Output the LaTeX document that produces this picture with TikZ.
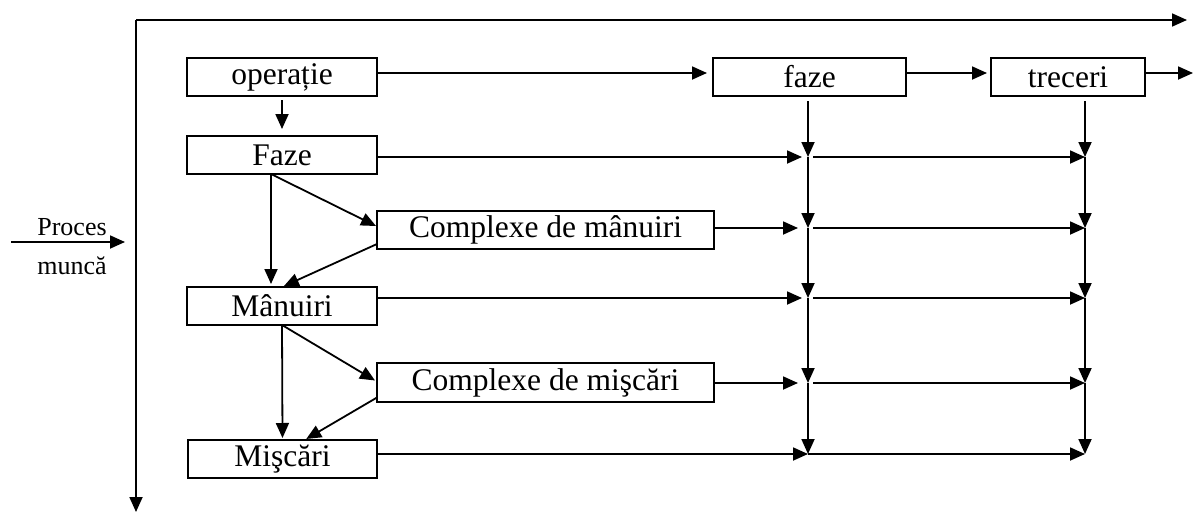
\documentclass[tikz,border=0pt]{standalone}
\usepackage{fontspec}
\setmainfont{Liberation Serif}
\usetikzlibrary{arrows.meta,calc}
\begin{document}
\begin{tikzpicture}[x=1pt,y=-1pt,
  box/.style={draw,line width=2pt,inner sep=0pt,outer sep=0pt,anchor=north west,
    minimum height=38pt,font=\fontsize{31.5}{36}\selectfont},
  arr/.style={line width=1.8pt,-{Triangle[length=15pt,width=13pt]}},
  lbl/.style={font=\fontsize{26}{30}\selectfont,inner sep=0pt,anchor=base}]
\useasboundingbox (0,0) rectangle (1198,514);
% boxes
\node[box,minimum width=190pt] (op) at (187,58) {operație};
\node[box,minimum width=190pt] (Fz) at (187,136) {Faze};
\node[box,minimum width=337pt] (CM) at (377,211) {Complexe de mânuiri};
\node[box,minimum width=190pt] (Mn) at (187,287) {Mânuiri};
\node[box,minimum width=337pt,minimum height=39pt] (CS) at (377,363) {Complexe de mişcări};
\node[box,minimum width=189pt] (Ms) at (188,440) {Mişcări};
\node[box,minimum width=193pt] (fz) at (713,58) {faze};
\node[box,minimum width=154pt] (tr) at (991,58) {treceri};
% labels
\node[lbl] (pr) at (72,235) {Proces};
\node[lbl] (mu) at (72,274) {muncă};
% axes
\coordinate (O) at (136,20);
\coordinate (Xe) at (1187,20);
\coordinate (Ye) at (136,512);
\coordinate (Ps) at (11,242);
\coordinate (Pe) at (125,242);
\draw[arr] (O) -- (Xe);
\draw[arr] (O) -- (Ye);
\draw[arr] (Ps) -- (Pe);
% grid junctions
\coordinate (A0) at (808,101); \coordinate (B0) at (1085,101);
\coordinate (A1) at (808,157); \coordinate (B1) at (1085,157);
\coordinate (A2) at (808,228); \coordinate (B2) at (1085,228);
\coordinate (A3) at (808,298); \coordinate (B3) at (1085,298);
\coordinate (A4) at (808,383); \coordinate (B4) at (1085,383);
\coordinate (A5) at (808,454); \coordinate (B5) at (1085,454);
\coordinate (Te) at (1193,73);
% top row
\draw[arr] (op.east|-0,73) -- ([xshift=-6pt]fz.west|-0,73);
\draw[arr] (fz.east|-0,73) -- ([xshift=-4pt]tr.west|-0,73);
\draw[arr] (tr.east|-Te) -- (Te);
% verticals
\foreach \c in {A,B}{
  \draw[arr] (\c0) -- (\c1);
  \draw[arr] (\c1) -- (\c2);
  \draw[arr] (\c2) -- (\c3);
  \draw[arr] (\c3) -- (\c4);
  \draw[arr] (\c4) -- (\c5);
}
% rows into column A
\draw[arr,shorten >=6pt] (Fz.east|-A1) -- (A1);
\draw[arr,shorten >=10pt] (CM.east|-A2) -- (A2);
\draw[arr,shorten >=6pt] (Mn.east|-A3) -- (A3);
\draw[arr,shorten >=10pt] (CS.east|-A4) -- (A4);
\draw[arr] (Ms.east|-A5) -- (A5);
% rows A to B
\foreach \i in {1,2,3,4}{
  \draw[arr,shorten <=5pt] (A\i) -- (B\i);
}
\draw[arr] (A5) -- (B5);
% left hierarchy
\draw[arr,shorten <=4pt,shorten >=7pt] (op.south) -- (Fz.north);
\draw[arr,shorten >=3pt] ($(Fz.south)+(-11,0)$) -- ($(Mn.north)+(-11,0)$);
\draw[arr] ($(Fz.south)+(-11,0)$) -- ($(CM.west)+(-1,-4)$);
\draw[arr,shorten >=2pt] ($(CM.west)+(0,14)$) -- (Mn.north);
\draw[arr,shorten >=2pt] (Mn.south) -- (Ms.north);
\draw[arr] (Mn.south) -- ($(CS.west)+(-2,-2)$);
\draw[arr,shorten >=2pt] ($(CS.west)+(0,15)$) -- ($(Ms.north)+(22,0)$);
\end{tikzpicture}
\end{document}
